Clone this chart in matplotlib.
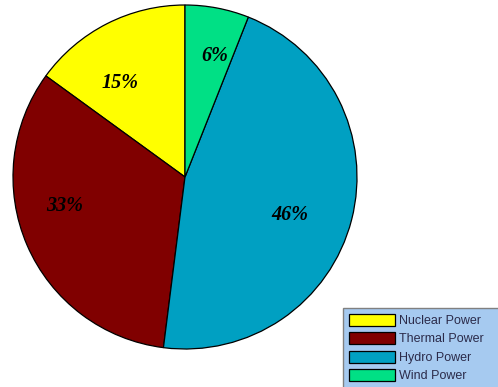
import matplotlib
matplotlib.use("Agg")
import matplotlib.pyplot as plt

# 발전원별 비중
sources = ["Nuclear Power", "Thermal Power", "Hydro Power", "Wind Power"]
shares  = [15, 33, 46, 6]
colors  = ["#ffff00", "#800000", "#00a0c2", "#00e085"]

W, H = 498, 387
fig = plt.figure(figsize=(W / 100, H / 100), dpi=100, facecolor="white")

# pie centre (185, 177) px, radius 172 px
cx, cy, r = 185, 177, 172
ax = fig.add_axes([(cx - r) / W, (H - cy - r) / H, 2 * r / W, 2 * r / H])

wedges, texts, autotexts = ax.pie(
    shares, colors=colors, startangle=90, counterclock=True,
    autopct="%d%%", pctdistance=0.7, radius=1.0,
    wedgeprops=dict(edgecolor="black", linewidth=0.9),
    textprops=dict(family="Liberation Serif", fontsize=14.5,
                   fontweight="bold", fontstyle="italic", color="black"),
)
ax.set_xlim(-1, 1)
ax.set_ylim(-1, 1)
ax.axis("off")

# 원본 차트의 라벨 위치 (반지름 단위)
label_xy = [(-0.378, 0.548), (-0.698, -0.167), (0.608, -0.219), (0.174, 0.702)]
for t, xy in zip(autotexts, label_xy):
    t.set_position(xy)

leg = fig.legend(
    wedges, sources, loc="upper left",
    bbox_to_anchor=(343 / W, 1 - 308 / H, 175 / W, 0), mode="expand",
    borderaxespad=0,
    prop=dict(family="Liberation Sans", size=9),
    labelcolor="#2b2b4a", handlelength=3.7, handleheight=1.15,
    handletextpad=0.3, labelspacing=0.4, borderpad=0.45,
    fancybox=False, framealpha=1, facecolor="#a6caf0", edgecolor="#808080",
)
leg.get_frame().set_linewidth(1.0)
for h in leg.legend_handles:
    h.set_edgecolor("black")

fig.savefig("out.png", dpi=100, facecolor=fig.get_facecolor())
